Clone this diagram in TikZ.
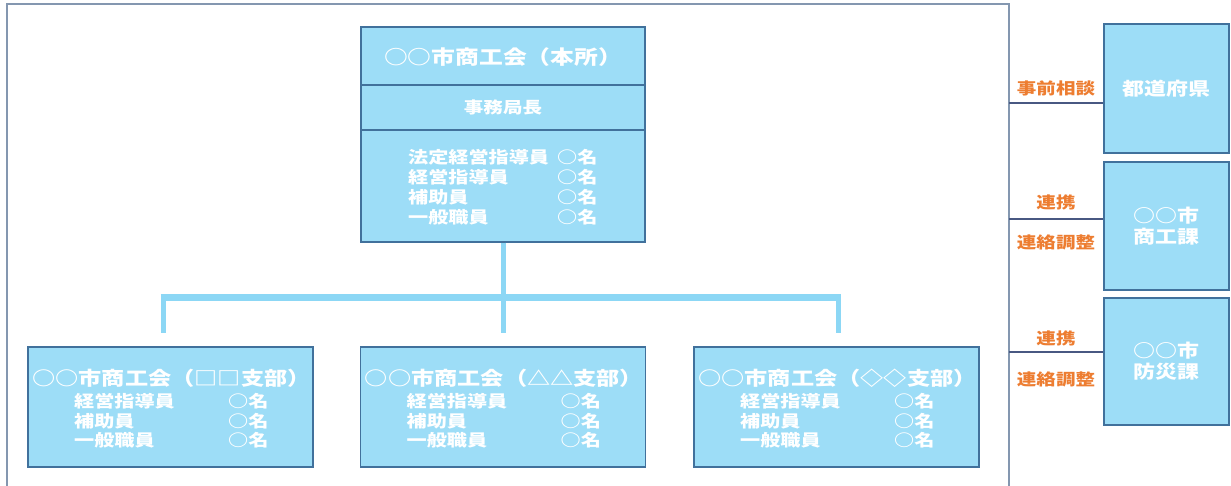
\documentclass[tikz,border=0pt]{standalone}
\usepackage{fontspec}
\setmainfont{Noto Sans CJK JP}[FakeStretch=1.22]
\definecolor{boxfill}{RGB}{157,221,247}
\definecolor{boxdraw}{RGB}{65,113,156}
\definecolor{connc}{RGB}{140,215,245}
\definecolor{framec}{RGB}{132,151,176}
\definecolor{rlinec}{RGB}{72,88,130}
\definecolor{orangec}{RGB}{237,125,49}
\tikzset{
  box/.style={draw=boxdraw, fill=boxfill, line width=1.5pt, inner sep=0pt, text=white, font=\bfseries},
  wtxt/.style={text=white, inner sep=0pt, font=\bfseries\fontsize{#1}{#1}\selectfont},
  otxt/.style={text=orangec, inner sep=0pt, font=\bfseries\fontsize{16}{16}\selectfont},
  conn/.style={draw=connc, line width=5pt},
  connbar/.style={draw=connc, line width=7pt},
  framel/.style={draw=framec, line width=2pt},
  rline/.style={draw=rlinec, line width=1.8pt},
}
\begin{document}
\begin{tikzpicture}[x=1pt,y=-1pt]
\useasboundingbox (0,0) rectangle (1231,486);
\fill[white] (0,0) rectangle (1231,486);
% outer frame
\draw[framel] (7,490) -- (7,4) -- (1009,4) -- (1009,490);
% main box
\node[box, minimum width=284pt, minimum height=58pt] (mtitle) at (503,56) {};
\node[box, minimum width=284pt, minimum height=45pt] (mhead) at (503,107.5) {};
\node[box, minimum width=284pt, minimum height=112pt] (mstaff) at (503,186) {};
\node[wtxt=19.5] (mtitleT) at (503,57) {○○市商工会（本所）};
\node[wtxt=16] (mheadT) at (mhead.center) {事務局長};
\node[wtxt=16.5, anchor=west] (ms1) at (408,157) {法定経営指導員};
\node[wtxt=16.5, anchor=west] (ms2) at (408,177) {経営指導員};
\node[wtxt=16.5, anchor=west] (ms3) at (408,197) {補助員};
\node[wtxt=16.5, anchor=west] (ms4) at (408,217) {一般職員};
\node[wtxt=16.5, anchor=west] (mn1) at (557,157) {○名};
\node[wtxt=16.5, anchor=west] (mn2) at (557,177) {○名};
\node[wtxt=16.5, anchor=west] (mn3) at (557,197) {○名};
\node[wtxt=16.5, anchor=west] (mn4) at (557,217) {○名};
% branch boxes
\foreach \n/\x/\sym in {1/170.5/□□, 2/503/△△, 3/836.5/◇◇} {
  \node[box, minimum width=285pt, minimum height=120pt] (b\n) at (\x,407) {};
  \node[wtxt=19] (b\n t) at (\x+1,378) {○○市商工会（\sym 支部）};
  \node[wtxt=16.5, anchor=west] (b\n s1) at (\x-96.5,401) {経営指導員};
  \node[wtxt=16.5, anchor=west] (b\n s2) at (\x-96.5,421) {補助員};
  \node[wtxt=16.5, anchor=west] (b\n s3) at (\x-96.5,440) {一般職員};
  \node[wtxt=16.5, anchor=west] (b\n n1) at (\x+57.5,401) {○名};
  \node[wtxt=16.5, anchor=west] (b\n n2) at (\x+57.5,421) {○名};
  \node[wtxt=16.5, anchor=west] (b\n n3) at (\x+57.5,440) {○名};
}
% connectors
\coordinate (jn) at (503,297);
\coordinate (d1) at (163,333);
\coordinate (d2) at (503,333);
\coordinate (d3) at (838,333);
\draw[conn] (mstaff.south) -- (jn);
\draw[conn] (d1 |- jn) -- (d1);
\draw[conn] (d2 |- jn) -- (d2);
\draw[conn] (d3 |- jn) -- (d3);
\draw[connbar] ([xshift=-2.5pt]d1 |- jn) -- ([xshift=2.5pt]d3 |- jn);
% right side boxes
\node[box, minimum width=125pt, minimum height=129pt] (pref) at (1166.5,88.5) {};
\node[box, minimum width=125pt, minimum height=128pt] (shoko) at (1166.5,226) {};
\node[box, minimum width=125pt, minimum height=127pt] (bosai) at (1166.5,361.5) {};
\node[wtxt=18] (prefT) at (pref.center) {都道府県};
\node[wtxt=18, align=center, font=\bfseries\fontsize{18}{21}\selectfont] (shokoT) at (shoko.center) {○○市\\商工課};
\node[wtxt=18, align=center, font=\bfseries\fontsize{18}{21}\selectfont] (bosaiT) at (bosai.center) {○○市\\防災課};
% links
\coordinate (f1) at (1009,103);
\coordinate (f2) at (1009,219);
\coordinate (f3) at (1009,352);
\draw[rline] (f1) -- (f1 -| pref.west);
\draw[rline] (f2) -- (f2 -| shoko.west);
\draw[rline] (f3) -- (f3 -| bosai.west);
\node[otxt] (l1) at (1056,88) {事前相談};
\node[otxt] (l2) at (1056,202) {連携};
\node[otxt] (l3) at (1056,242) {連絡調整};
\node[otxt] (l4) at (1056,338) {連携};
\node[otxt] (l5) at (1056,379) {連絡調整};
\end{tikzpicture}
\end{document}
